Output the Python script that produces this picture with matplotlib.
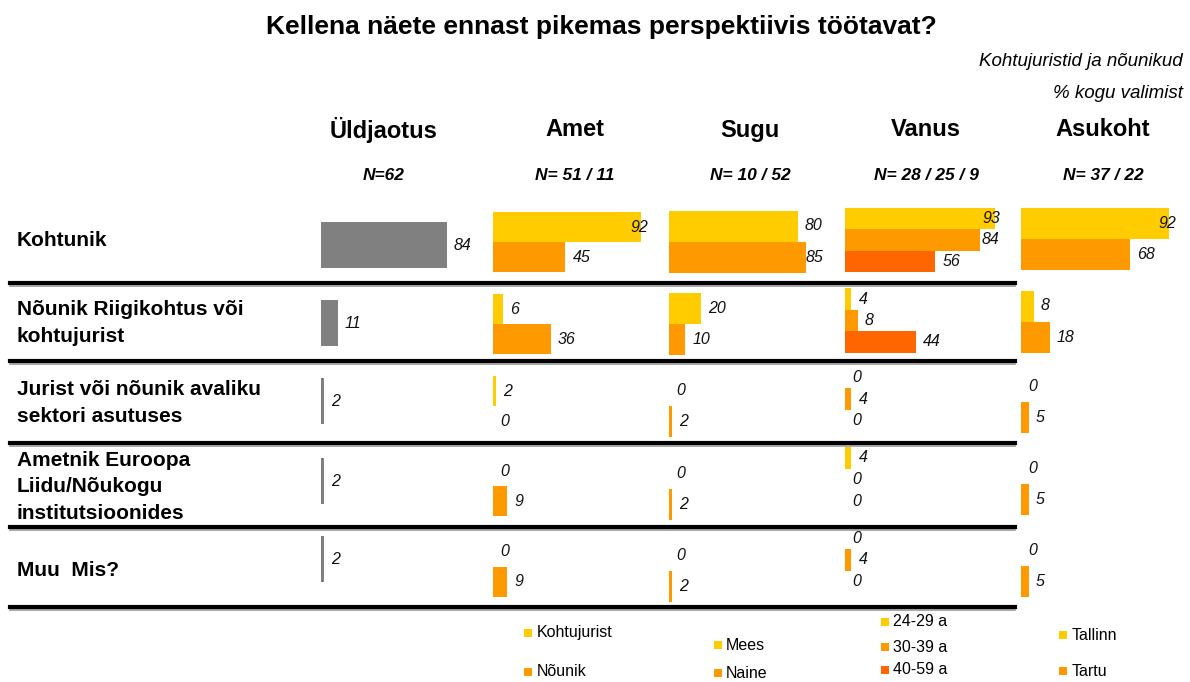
import matplotlib
matplotlib.use("Agg")
import matplotlib.pyplot as plt
from matplotlib.patches import Rectangle
from matplotlib.lines import Line2D

plt.rcParams['font.family'] = ['Liberation Sans', 'DejaVu Sans']

# ---------------- data ----------------
title = "Kellena näete ennast pikemas perspektiivis töötavat?"
subtitle1 = "Kohtujuristid ja nõunikud"
subtitle2 = "% kogu valimist"
categories = ["Kohtunik",
              "Nõunik Riigikohtus või\nkohtujurist",
              "Jurist või nõunik avaliku\nsektori asutuses",
              "Ametnik Euroopa\nLiidu/Nõukogu\ninstitutsioonides",
              "Muu  Mis?"]
panel_titles = ["Üldjaotus", "Amet", "Sugu", "Vanus", "Asukoht"]
panel_n = ["N=62", "N= 51 / 11", "N= 10 / 52", "N= 28 / 25 / 9", "N= 37 / 22"]

yldjaotus = [84, 11, 2, 2, 2]
amet_kohtujurist = [92, 6, 2, 0, 0]
amet_nounik = [45, 36, 0, 9, 9]
sugu_mees = [80, 20, 0, 0, 0]
sugu_naine = [85, 10, 2, 2, 2]
vanus_24_29 = [93, 4, 0, 4, 0]
vanus_30_39 = [84, 8, 4, 0, 4]
vanus_40_59 = [56, 44, 0, 0, 0]
asukoht_tallinn = [92, 8, 0, 0, 0]
asukoht_tartu = [68, 18, 5, 5, 5]

legend_amet = ["Kohtujurist", "Nõunik"]
legend_sugu = ["Mees", "Naine"]
legend_vanus = ["24-29 a", "30-39 a", "40-59 a"]
legend_asukoht = ["Tallinn", "Tartu"]

# ---------------- styles / layout ----------------
GREY = "#808080"
YEL = "#FFCC00"
ORA = "#FF9900"
DOR = "#FF6600"

W, H = 1190, 682
fig = plt.figure(figsize=(W / 100, H / 100), dpi=100)


def fx(x):
    return x / W


def fy(y):
    return 1 - y / H


panels = [
    dict(series=[yldjaotus], colors=[GREY], x0=321, scale=1.5, bh=46,
         centers=[245, 323, 401, 481, 559]),
    dict(series=[amet_kohtujurist, amet_nounik], colors=[YEL, ORA], x0=493, scale=1.61, bh=30,
         centers=[242, 324, 406, 486, 567]),
    dict(series=[sugu_mees, sugu_naine], colors=[YEL, ORA], x0=669, scale=1.61, bh=31,
         centers=[241.5, 324, 406, 489, 571]),
    dict(series=[vanus_24_29, vanus_30_39, vanus_40_59], colors=[YEL, ORA, DOR], x0=845, scale=1.61, bh=21.5,
         centers=[240, 320.5, 399, 479.5, 560]),
    dict(series=[asukoht_tallinn, asukoht_tartu], colors=[YEL, ORA], x0=1021, scale=1.61, bh=31,
         centers=[239, 321.5, 402, 484, 566]),
]

ytop, ybot = 190, 612
for p in panels:
    wpx = 100 * p["scale"]
    ax = fig.add_axes([fx(p["x0"]), fy(ybot), wpx / W, (ybot - ytop) / H])
    ax.set_xlim(0, 100)
    ax.set_ylim(ybot, ytop)
    ax.axis("off")
    n = len(p["series"])
    pad = 7 / p["scale"]
    clamp = 137 / p["scale"]
    for j, (vals, col) in enumerate(zip(p["series"], p["colors"])):
        ys = [c + (j - (n - 1) / 2) * p["bh"] for c in p["centers"]]
        ax.barh(ys, vals, height=p["bh"], color=col, left=0, linewidth=0)
        for v, y in zip(vals, ys):
            ax.text(min(v + pad, clamp), y, str(v), ha="left", va="center",
                    fontsize=11.5, style="italic", color="#111111", clip_on=False)

# panel headers
header_x = [384, 575, 750, 926, 1103]
for hx, t, nt in zip(header_x, panel_titles, panel_n):
    fig.text(fx(hx), fy(130), t, ha="center", va="center", fontsize=17, fontweight="bold")
    fig.text(fx(hx), fy(175), nt, ha="center", va="center", fontsize=12.5, fontweight="bold", style="italic")

# title / subtitles
fig.text(fx(601), fy(27), title, ha="center", va="center", fontsize=19, fontweight="bold")
fig.text(fx(1183), fy(62), subtitle1, ha="right", va="center", fontsize=13.5, style="italic")
fig.text(fx(1183), fy(93), subtitle2, ha="right", va="center", fontsize=13.5, style="italic")

# row labels
row_label_y = [241, 323, 403, 487, 570]
for lab, y in zip(categories, row_label_y):
    fig.text(fx(17), fy(y), lab, ha="left", va="center", fontsize=15, fontweight="bold",
             linespacing=1.5)

# separator lines
for y in [283, 361, 443, 527, 607]:
    fig.add_artist(Line2D([fx(10), fx(1015)], [fy(y + 2.5), fy(y + 2.5)], color="#9a9a9a", lw=1.2))
    fig.add_artist(Line2D([fx(10), fx(1015)], [fy(y), fy(y)], color="black", lw=3))

# white legend box for Vanus
fig.add_artist(Rectangle((fx(858), fy(682)), (965 - 858) / W, (682 - 609) / H,
                         transform=fig.transFigure, facecolor="white", edgecolor="none"))


def legend(items, colors, sqx, txt_x, ys):
    for it, col, y in zip(items, colors, ys):
        fig.add_artist(Rectangle((fx(sqx), fy(y + 4)), 8 / W, 8 / H, transform=fig.transFigure,
                                 facecolor=col, edgecolor="none"))
        fig.text(fx(txt_x), fy(y), it, ha="left", va="center", fontsize=11.5)


legend(legend_amet, [YEL, ORA], 524, 537, [633, 672])
legend(legend_sugu, [YEL, ORA], 714, 726, [645, 673])
legend(legend_vanus, [YEL, ORA, DOR], 881, 893, [622, 647, 670])
legend(legend_asukoht, [YEL, ORA], 1059, 1072, [635, 671])

fig.savefig("out.png", dpi=100, facecolor="white")
